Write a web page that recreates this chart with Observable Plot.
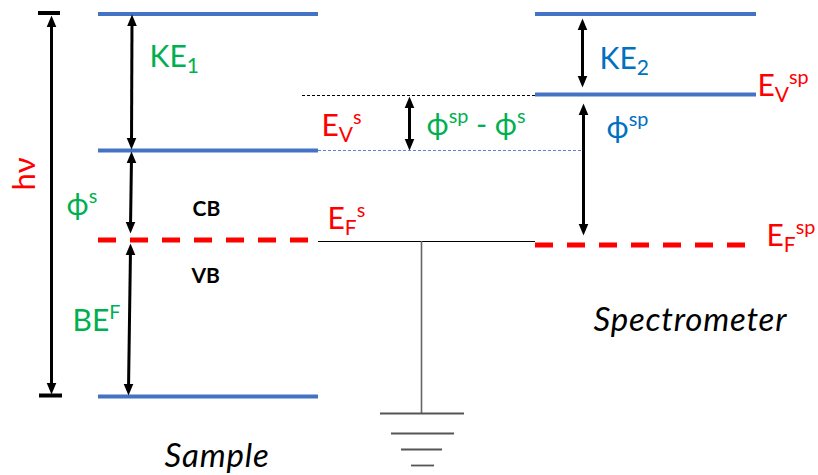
<!DOCTYPE html>
<html><head><meta charset="utf-8">
<script src="https://cdn.jsdelivr.net/npm/d3@7"></script>
<script src="https://cdn.jsdelivr.net/npm/@observablehq/plot@0.6"></script>
<style>
html,body{margin:0;padding:0;background:#fff}
#chart svg{display:block}
</style>
</head><body><div id="chart"></div>
<script>
// ---------- data (energies in arbitrary units, sample core level = 0) ----------
const sampleLevelNames   = ["top (hν)", "E_V^s", "E_F^s", "core"];
const sampleLevelEnergy  = [382.5, 246, 156.5, 0];
const sampleLevelKind    = ["solid", "solid", "fermi", "solid"];

const specLevelNames     = ["top", "E_V^sp", "E_F^sp"];
const specLevelEnergy    = [382.5, 302, 151.5];
const specLevelKind      = ["solid", "solid", "fermi"];

const contactEnergy      = 155;            // sample–spectrometer contact wire
const groundEnergy       = [-17, -37, -53, -69]; // ground symbol bars

// arrows: tip energies (upper / lower)
const arrowNames  = ["hν", "KE1", "φs", "BEF", "φsp-φs", "KE2", "φsp"];
const arrowUpper  = [381, 382, 245, 153, 300, 378, 293];
const arrowLower  = [2, 247, 163, 1, 246, 309, 161];

// labels
const labelTexts  = ["KE_{1}", "ϕ^{s}", "BE^{F}", "E_{V}^{s}", "ϕ^{sp} - ϕ^{s}", "E_{F}^{s}",
                     "KE_{2}", "E_{V}^{sp}", "ϕ^{sp}", "E_{F}^{sp}"];
const labelEnergy = [330, 182, 66, 261, 262, 168, 328, 301, 259, 151];
const bandTexts   = ["CB", "VB"];
const bandEnergy  = [181, 114];
const titleTexts  = ["Sample", "Spectrometer"];
const titleEnergy = [-70, 66];

// ---------- layout (pixels) ----------
const W = 818, H = 475;
const colSpan = {sample: [98, 318], spec: [535, 756]};
const arrowX = {"hν": [51, 51], "KE1": [131.5, 131], "φs": [131, 130], "BEF": [130, 128],
                "φsp-φs": [409, 409], "KE2": [582, 582], "φsp": [583, 583]};
const labelX = [149, 66, 72, 321, 426, 327, 599, 757, 606, 766];
const labelColor = ["#00B050", "#00B050", "#00B050", "#FF0000", "#00B050", "#FF0000",
                    "#0070C0", "#FF0000", "#0070C0", "#FF0000"];
const bandX = [192, 191];
const titleX = [164, 593];
const BLUE = "#4472C4";
const FONT = "Lato, 'Noto Sans', 'DejaVu Sans', sans-serif";

// tables
const levels = [
  ...sampleLevelNames.map((n, i) => ({name: n, E: sampleLevelEnergy[i], kind: sampleLevelKind[i], col: "sample"})),
  ...specLevelNames.map((n, i) => ({name: n, E: specLevelEnergy[i], kind: specLevelKind[i], col: "spec"}))
];
const arrows = arrowNames.map((n, i) => ({name: n, up: arrowUpper[i], lo: arrowLower[i],
  xu: arrowX[n][0], xl: arrowX[n][1]}));
const labels = labelTexts.map((t, i) => ({text: t, E: labelEnergy[i], x: labelX[i], color: labelColor[i]}));
const bands = bandTexts.map((t, i) => ({text: t, E: bandEnergy[i], x: bandX[i]}));
const titles = titleTexts.map((t, i) => ({text: t, E: titleEnergy[i], x: titleX[i]}));

const sampleVac = sampleLevelEnergy[1], specVac = specLevelEnergy[1];

// arrow head symbol (tip at origin, pointing up)
const head = {draw(ctx) { ctx.moveTo(0, 0); ctx.lineTo(4.8, 11.5); ctx.lineTo(-4.8, 11.5); ctx.closePath(); }};
const SH = 6; // line shortening under the heads

const chart = Plot.plot({
  width: W, height: H, margin: 0,
  x: {domain: [0, W], axis: null},
  y: {domain: [-79, 396], axis: null},
  style: {background: "#fff", fontFamily: FONT},
  marks: [
    Plot.ruleY(levels.filter(d => d.kind === "solid"), {y: "E", x1: d => colSpan[d.col][0], x2: d => colSpan[d.col][1], stroke: BLUE, strokeWidth: 4}),
    Plot.ruleY(levels.filter(d => d.kind === "fermi"), {y: "E", x1: d => colSpan[d.col][0], x2: d => colSpan[d.col][1], stroke: "#FF0000", strokeWidth: 5, strokeDasharray: "18,14"}),
    Plot.ruleY([specVac - 1], {y: d => d, x1: 302, x2: colSpan.spec[0], stroke: "#000", strokeWidth: 1, strokeDasharray: "3,2"}),
    Plot.ruleY([sampleVac], {y: d => d, x1: colSpan.sample[1], x2: arrowX["φsp"][0], stroke: "#5B84D0", strokeWidth: 1, strokeDasharray: "3,2"}),
    Plot.ruleY([contactEnergy], {y: d => d, x1: colSpan.sample[1], x2: colSpan.spec[0], stroke: "#000", strokeWidth: 1.2}),
    Plot.ruleX([421], {x: d => d, y1: contactEnergy, y2: groundEnergy[0], stroke: "#666", strokeWidth: 1.6}),
    Plot.ruleY(groundEnergy, {y: d => d, x1: (d, i) => [380, 391, 401, 411][i], x2: (d, i) => [464, 454, 442, 434][i], stroke: "#555", strokeWidth: 1.8}),
    Plot.ruleY([sampleLevelEnergy[0] + 1, 1], {y: d => d, x1: (d, i) => [38, 39][i], x2: (d, i) => [60, 62][i], stroke: "#000", strokeWidth: 4}),
    Plot.link(arrows, {x1: "xu", y1: d => d.up - SH, x2: "xl", y2: d => d.lo + SH, stroke: "#000", strokeWidth: 3}),
    Plot.dot(arrows, {x: "xu", y: "up", symbol: head, fill: "#000", stroke: "none"}),
    Plot.dot(arrows, {x: "xl", y: "lo", symbol: head, fill: "#000", stroke: "none", rotate: 180}),
    Plot.text(labels, {x: "x", y: "E", text: "text", fill: "color", fontSize: 30, textAnchor: "start", lineAnchor: "bottom"}),
    Plot.text(["hν"], {x: 25, y: 396 - 173.5, text: d => d, fill: "#FF0000", fontSize: 31, rotate: -90, textAnchor: "middle", lineAnchor: "middle"}),
    Plot.text(bands, {x: "x", y: "E", text: "text", fill: "#000", fontSize: 21, fontWeight: "bold", textAnchor: "start", lineAnchor: "bottom"}),
    Plot.text(titles, {x: "x", y: "E", text: "text", fill: "#000", fontSize: 33, fontStyle: "italic", textAnchor: "start", lineAnchor: "bottom"})
  ]
});

// rich text: _{sub} and ^{sup}; letter spacing for titles
chart.querySelectorAll("text").forEach(el => {
  const s = el.textContent;
  if (titleTexts.includes(s)) el.setAttribute("letter-spacing", "0.8");
  if (!/[_^]\{/.test(s)) return;
  const fs = parseFloat(getComputedStyle(el).fontSize) || 30;
  const parts = [];
  const re = /([_^])\{([^}]*)\}|([^_^]+)/g;
  let m;
  while ((m = re.exec(s))) {
    if (m[3] !== undefined) parts.push({t: m[3], k: "n"});
    else parts.push({t: m[2], k: m[1] === "_" ? "sub" : "sup"});
  }
  el.textContent = "";
  let cur = 0;
  parts.forEach(p => {
    const target = p.k === "n" ? 0 : p.k === "sub" ? 0.23 * fs : -0.4 * fs;
    const ts = document.createElementNS("http://www.w3.org/2000/svg", "tspan");
    ts.setAttribute("dy", (target - cur).toFixed(2));
    if (p.k !== "n") ts.setAttribute("font-size", (fs * (p.k === "sub" ? 0.7 : 0.66)).toFixed(1));
    ts.textContent = p.t;
    el.appendChild(ts);
    cur = target;
  });
});

document.getElementById("chart").appendChild(chart);
</script>
</body></html>
